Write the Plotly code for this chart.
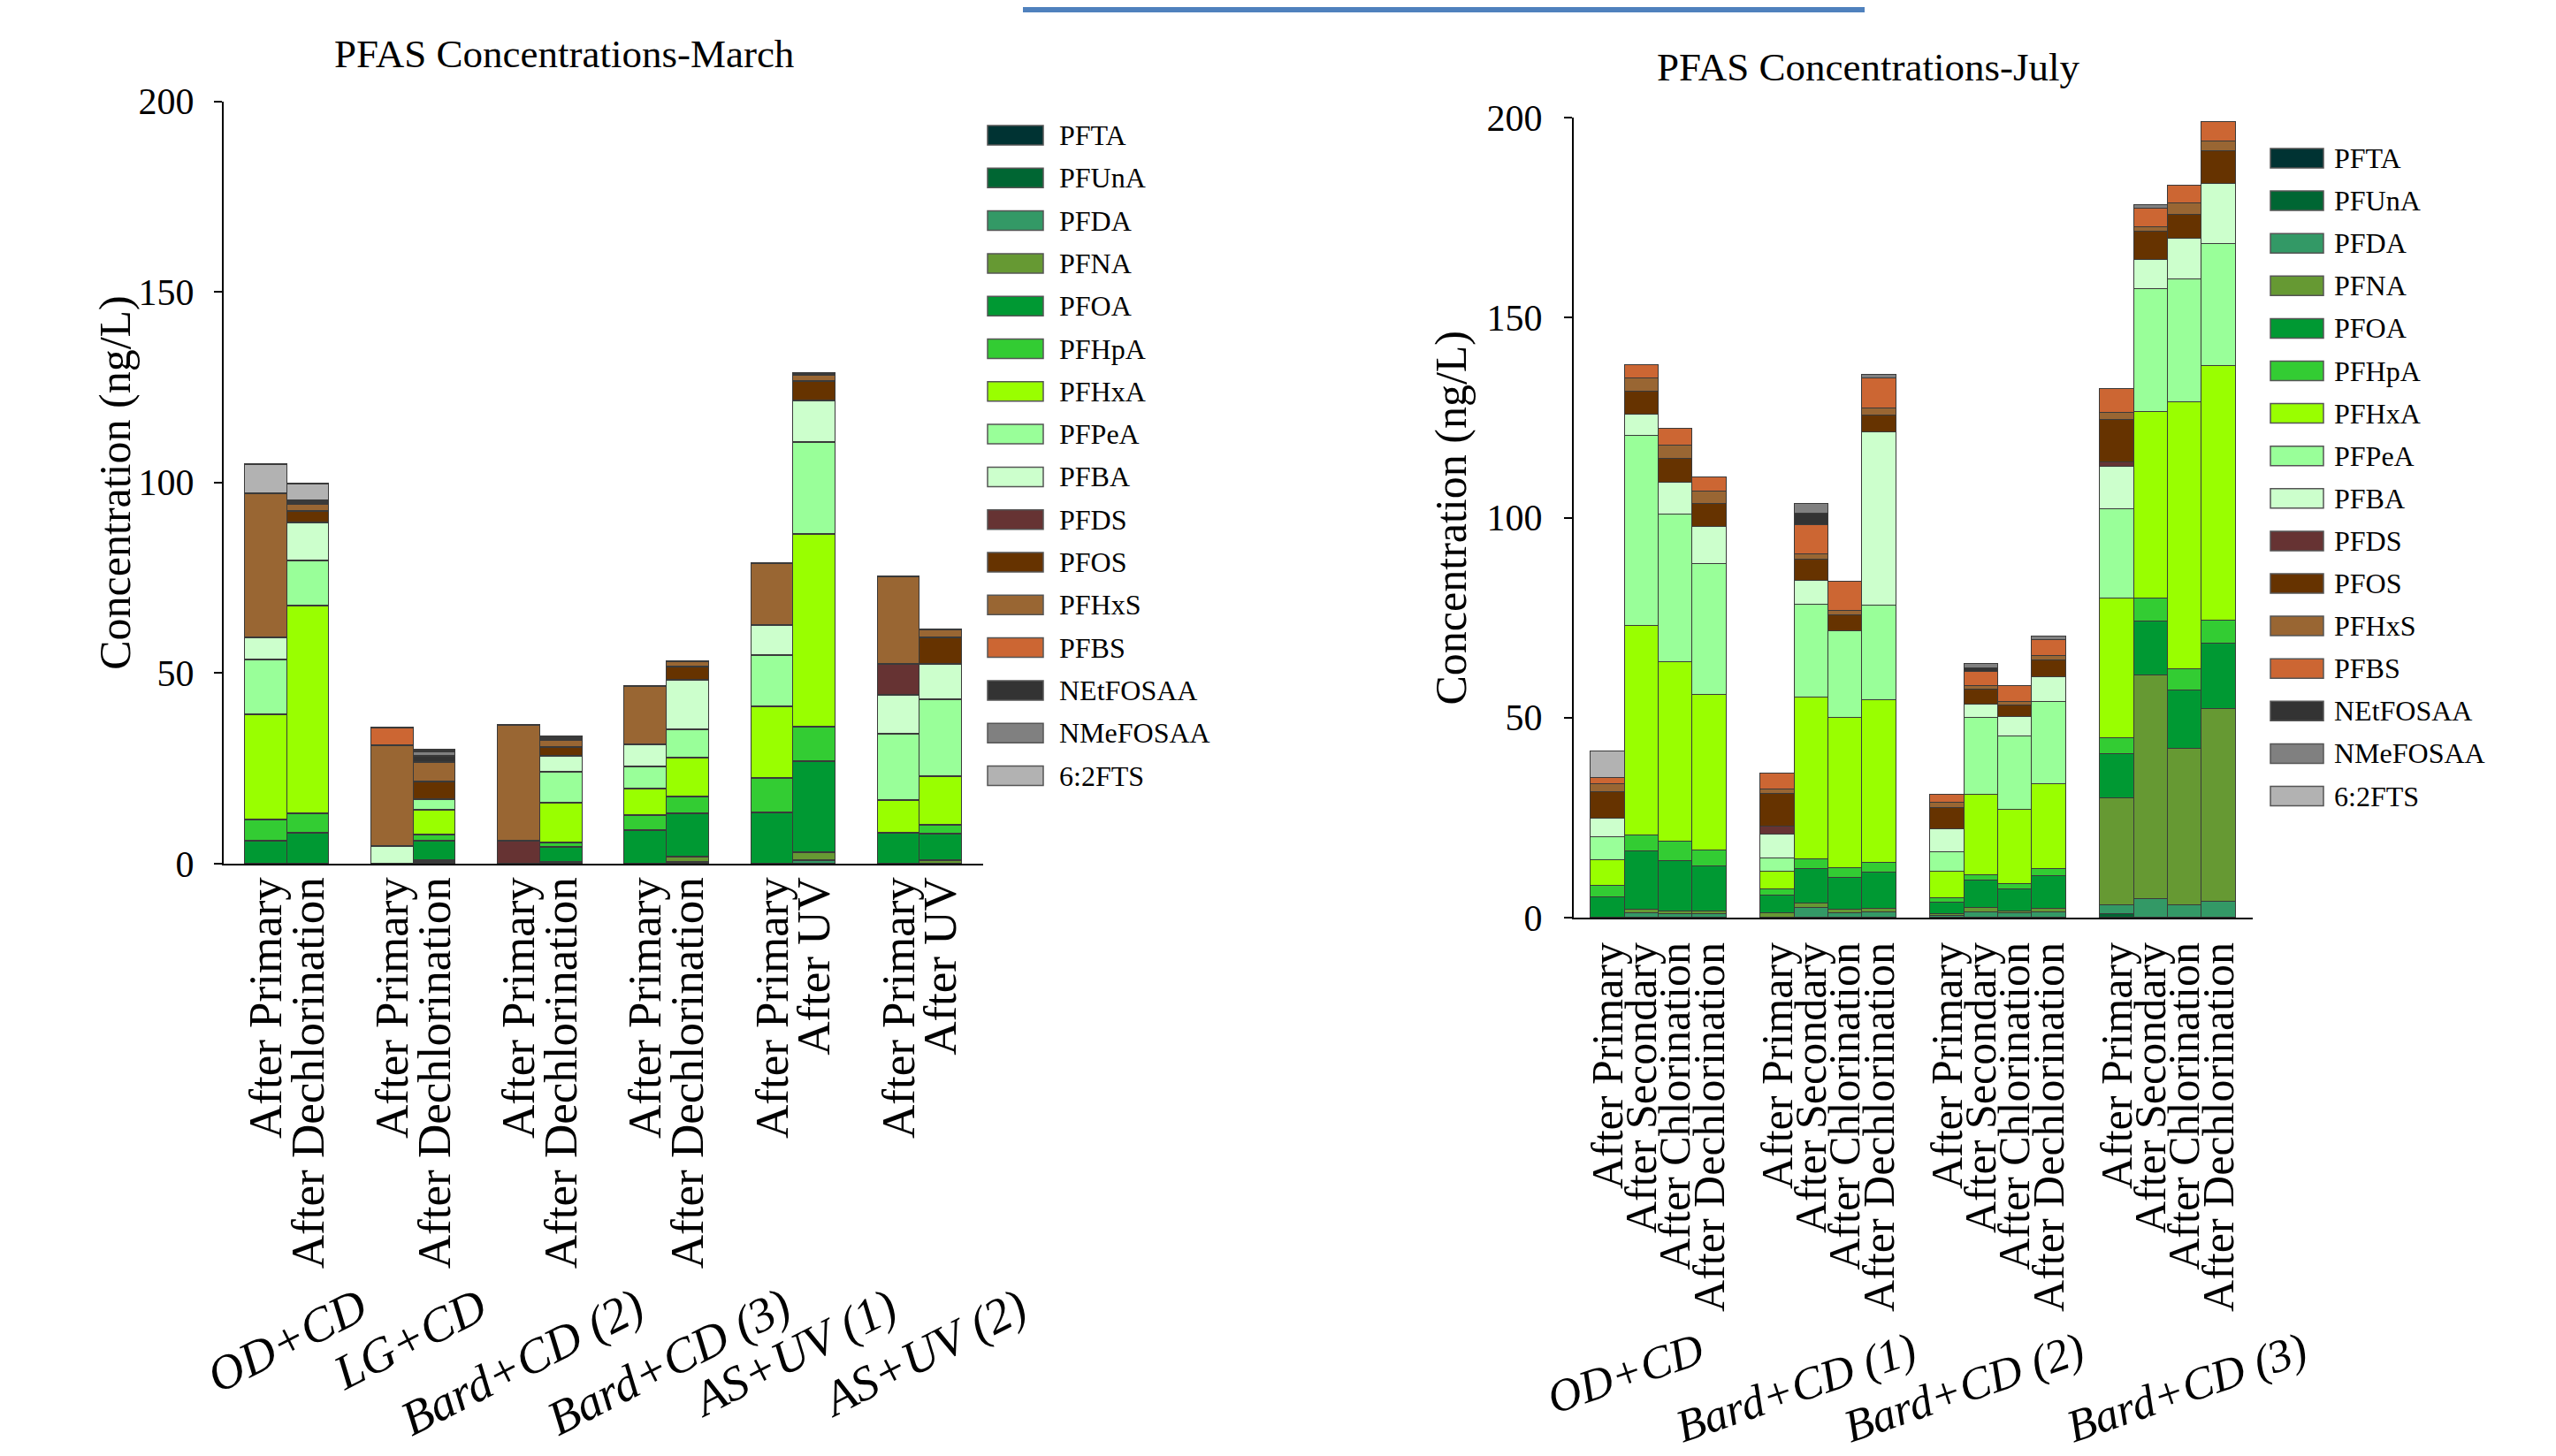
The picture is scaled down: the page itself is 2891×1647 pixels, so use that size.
import plotly.graph_objects as go

W, H = 2891, 1647

compounds = ["PFTA", "PFUnA", "PFDA", "PFNA", "PFOA", "PFHpA", "PFHxA", "PFPeA", "PFBA",
             "PFDS", "PFOS", "PFHxS", "PFBS", "NEtFOSAA", "NMeFOSAA", "6:2FTS"]
colors = ["#003333", "#006633", "#339966", "#669933", "#009933", "#33CC33", "#99FF00", "#99FF99",
          "#CCFFCC", "#663333", "#663300", "#996633", "#CC6633", "#333333", "#808080", "#B2B2B2"]

# ---------------- March ----------------
march_groups = ["OD+CD", "LG+CD", "Bard+CD (2)", "Bard+CD (3)", "AS+UV (1)", "AS+UV (2)"]
march_stages = [["After Primary", "After Dechlorination"]] * 4 + [["After Primary", "After UV"]] * 2

march_PFTA = [0, 0, 0, 0, 0, 0, 0, 0, 0, 0, 0, 0]
march_PFUnA = [0, 0, 0, 0, 0, 0, 0, 0, 0, 0, 0, 0]
march_PFDA = [0, 0, 0, 0.3, 0, 0, 0, 0.4, 0, 0.9, 0, 0]
march_PFNA = [0, 0, 0, 0.5, 0, 0.3, 0, 1.4, 0, 2.1, 0, 0.7]
march_PFOA = [6.0, 8.1, 0, 5.2, 0, 3.9, 8.8, 11.3, 13.4, 23.8, 7.9, 7.0]
march_PFHpA = [5.4, 5.1, 0, 1.6, 0, 1.2, 3.8, 4.5, 8.9, 9.0, 0, 2.5]
march_PFHxA = [27.7, 54.5, 0, 6.5, 0, 10.6, 7.0, 10.2, 18.8, 50.6, 8.6, 12.6]
march_PFPeA = [14.4, 11.8, 0, 2.8, 0, 8.0, 5.7, 7.4, 13.5, 24.2, 17.5, 20.3]
march_PFBA = [5.8, 10.0, 4.6, 0, 0, 4.1, 6.0, 12.9, 7.9, 10.8, 10.2, 9.2]
march_PFDS = [0, 0, 0, 0, 6.0, 0, 0, 0, 0, 0, 8.1, 0]
march_PFOS = [0, 2.9, 0, 4.5, 0, 2.3, 0, 3.6, 0, 5.0, 0, 7.0]
march_PFHxS = [37.7, 1.8, 26.3, 5.2, 30.3, 1.9, 15.2, 1.4, 16.3, 1.8, 22.9, 2.1]
march_PFBS = [0, 0, 4.8, 0, 0, 0, 0, 0, 0, 0, 0, 0]
march_NEtFOSAA = [0, 0.5, 0, 1.6, 0, 0.6, 0, 0, 0, 0.4, 0, 0]
march_NMeFOSAA = [0, 0.4, 0, 1.2, 0, 0.4, 0, 0, 0, 0, 0, 0]
march_62FTS = [7.8, 4.6, 0, 0.4, 0, 0, 0, 0, 0, 0, 0, 0]

# ---------------- July ----------------
july_groups = ["OD+CD", "Bard+CD (1)", "Bard+CD (2)", "Bard+CD (3)"]
july_stages = [["After Primary", "After Secondary", "After Chlorination", "After Dechlorination"]] * 4

july_PFTA = [0, 0, 0, 0, 0, 0, 0, 0, 0, 0, 0, 0, 0, 0, 0, 0]
july_PFUnA = [0, 0, 0, 0, 0, 0, 0, 0, 0, 0, 0, 0, 0.9, 0, 0, 0]
july_PFDA = [0, 1.2, 0.9, 0.9, 0, 2.4, 1.2, 1.3, 0.4, 1.3, 1.0, 1.35, 2.1, 4.7, 3.2, 3.9]
july_PFNA = [0, 0.9, 0.7, 0.6, 1.0, 1.1, 0.7, 1.0, 0.5, 1.1, 0.6, 0.95, 26.8, 55.8, 39.0, 48.2]
july_PFOA = [5.0, 14.4, 12.5, 11.3, 4.5, 8.7, 8.1, 8.9, 2.8, 6.9, 5.5, 8.1, 11.1, 13.5, 14.5, 16.5]
july_PFHpA = [2.9, 4.1, 4.8, 4.1, 1.6, 2.4, 2.4, 2.6, 1.1, 1.4, 1.3, 1.8, 4.0, 5.7, 5.4, 5.7]
july_PFHxA = [6.5, 52.3, 45.0, 38.7, 4.3, 40.4, 37.5, 40.6, 6.7, 20.0, 18.6, 21.2, 34.9, 46.7, 66.7, 63.7]
july_PFPeA = [5.7, 47.6, 36.8, 32.9, 3.5, 23.3, 21.7, 23.6, 4.8, 19.3, 18.2, 20.6, 22.2, 30.8, 30.7, 30.5]
july_PFBA = [4.7, 5.2, 8.1, 9.2, 5.9, 6.0, 0, 43.4, 5.8, 3.2, 4.9, 6.2, 10.6, 7.2, 10.3, 14.9]
july_PFDS = [0, 0, 0, 0, 1.9, 0, 0, 0, 0, 0, 0, 0, 1.3, 0, 0, 0]
july_PFOS = [6.6, 5.7, 6.0, 5.8, 8.2, 5.3, 3.9, 4.1, 5.4, 3.8, 3.0, 4.1, 10.5, 7.0, 6.0, 8.1]
july_PFHxS = [1.9, 3.5, 3.2, 3.0, 1.2, 1.2, 1.1, 1.7, 1.2, 1.0, 0.8, 1.2, 1.7, 1.1, 2.7, 2.5]
july_PFBS = [1.7, 3.2, 4.3, 3.6, 4.0, 7.4, 7.4, 7.7, 2.0, 3.4, 4.1, 3.8, 6.1, 4.8, 4.4, 4.9]
july_NEtFOSAA = [0, 0, 0, 0, 0, 2.9, 0, 0, 0, 1.0, 0, 0, 0, 0, 0, 0]
july_NMeFOSAA = [0, 0, 0, 0, 0, 2.4, 0, 0.8, 0, 1.1, 0, 0.9, 0, 0.9, 0, 0]
july_62FTS = [6.6, 0, 0, 0, 0, 0, 0, 0, 0, 0, 0, 0, 0, 0, 0, 0]

march_values = [march_PFTA, march_PFUnA, march_PFDA, march_PFNA, march_PFOA, march_PFHpA,
                march_PFHxA, march_PFPeA, march_PFBA, march_PFDS, march_PFOS, march_PFHxS,
                march_PFBS, march_NEtFOSAA, march_NMeFOSAA, march_62FTS]
july_values = [july_PFTA, july_PFUnA, july_PFDA, july_PFNA, july_PFOA, july_PFHpA,
               july_PFHxA, july_PFPeA, july_PFBA, july_PFDS, july_PFOS, july_PFHxS,
               july_PFBS, july_NEtFOSAA, july_NMeFOSAA, july_62FTS]

# ---------------- layout helpers (pixels -> paper) ----------------
OFF = 8  # page body margin offset

def px(x):
    return (x - OFF) / W

def py(y):
    return 1 - (y - OFF) / H

FONT = "Liberation Serif, Times New Roman, serif"
OUTLINE = dict(color="#3a3a3a", width=1.5)

m_per = 3
j_per = 5
march_x, march_ticktext = [], []
for g, stages in enumerate(march_stages):
    for j, s in enumerate(stages):
        march_x.append(g * m_per + j)
        march_ticktext.append(s)
july_x, july_ticktext = [], []
for g, stages in enumerate(july_stages):
    for j, s in enumerate(stages):
        july_x.append(g * j_per + j)
        july_ticktext.append(s)

fig = go.Figure()

def nz(v):
    return [val if val else None for val in v]

for name, col, mv, jv in zip(compounds, colors, march_values, july_values):
    fig.add_trace(go.Bar(x=march_x, y=nz(mv), name=name, width=1,
                         marker=dict(color=col, line=OUTLINE),
                         xaxis="x", yaxis="y", showlegend=False))
    fig.add_trace(go.Bar(x=july_x, y=nz(jv), name=name, width=1,
                         marker=dict(color=col, line=OUTLINE),
                         xaxis="x2", yaxis="y2", showlegend=False))

L_X0, L_X1, L_Y200, L_Y0 = 253, 1112, 114.5, 977
R_X0, R_X1, R_Y200, R_Y0 = 1780, 2548, 133, 1038

def yaxis_style(y200, y0, standoff):
    return dict(domain=[py(y0), py(y200)], range=[0, 200], tickvals=[0, 50, 100, 150, 200],
                ticks="outside", ticklen=9, tickwidth=2, tickcolor="black", automargin=False,
                showline=True, linecolor="black", linewidth=2, showgrid=False, zeroline=False,
                tickfont=dict(family=FONT, size=42, color="black"), ticklabelstandoff=standoff)

def xaxis_style(x0, x1, rng, tv, tt, standoff, anchor, fsize):
    return dict(domain=[px(x0), px(x1)], range=rng, tickvals=tv, ticktext=tt, tickangle=-90,
                ticks="", showline=True, linecolor="black", linewidth=2, showgrid=False,
                zeroline=False, anchor=anchor, automargin=False,
                tickfont=dict(family=FONT, size=fsize, color="black"), ticklabelstandoff=standoff)

n_m = len(march_stages)
n_j = len(july_stages)
fig.update_layout(
    width=W, height=H, autosize=False,
    margin=dict(l=0, r=0, t=0, b=0, pad=0),
    paper_bgcolor="white", plot_bgcolor="white",
    barmode="stack", bargap=0,
    font=dict(family=FONT, color="black"),
    xaxis=xaxis_style(L_X0, L_X1, [-1, n_m * m_per - 1], march_x, march_ticktext, -8, "y", 53),
    yaxis=yaxis_style(L_Y200, L_Y0, 14) | dict(anchor="x"),
    xaxis2=xaxis_style(R_X0, R_X1, [-1, n_j * j_per - 1], july_x, july_ticktext, 6, "y2", 50),
    yaxis2=yaxis_style(R_Y200, R_Y0, 16) | dict(anchor="x2"),
)

ann = []
shapes = []

ann.append(dict(text="PFAS Concentrations-March", x=px(638), y=py(61), xref="paper", yref="paper",
                xanchor="center", yanchor="middle", showarrow=False,
                font=dict(family=FONT, size=45, color="black")))
ann.append(dict(text="PFAS Concentrations-July", x=px(2113), y=py(76), xref="paper", yref="paper",
                xanchor="center", yanchor="middle", showarrow=False,
                font=dict(family=FONT, size=45, color="black")))
ann.append(dict(text="Concentration (ng/L)", x=px(130), y=py((L_Y0 + L_Y200) / 2), xref="paper",
                yref="paper", textangle=-90, xanchor="center", yanchor="middle", showarrow=False,
                font=dict(family=FONT, size=50, color="black")))
ann.append(dict(text="Concentration (ng/L)", x=px(1640), y=py((R_Y0 + R_Y200) / 2), xref="paper",
                yref="paper", textangle=-90, xanchor="center", yanchor="middle", showarrow=False,
                font=dict(family=FONT, size=50, color="black")))

march_shift = [0, -4, -20, 2, 0, 4]
for g, name in enumerate(march_groups):
    ann.append(dict(text=name, x=g * m_per + 0.5, xref="x", y=py(1443), yref="paper",
                    xanchor="center", yanchor="top", textangle=-27, showarrow=False,
                    xshift=march_shift[g],
                    font=dict(family=FONT, size=55, color="black", style="italic")))
july_shift = [-38, -37, -39, 21]
for g, name in enumerate(july_groups):
    ann.append(dict(text=name, x=g * j_per + 1.5, xref="x2", y=py(1494), yref="paper",
                    xanchor="center", yanchor="top", textangle=-19, showarrow=False,
                    xshift=july_shift[g],
                    font=dict(family=FONT, size=52, color="black", style="italic")))

def add_legend(x_box0, x_box1, x_text, y_first, step):
    for i, (name, col) in enumerate(zip(compounds, colors)):
        yc = y_first + i * step
        shapes.append(dict(type="rect", xref="paper", yref="paper",
                           x0=px(x_box0), x1=px(x_box1), y0=py(yc + 11), y1=py(yc - 11),
                           fillcolor=col, line=dict(color="#555555", width=1.5)))
        ann.append(dict(text=name, x=px(x_text), y=py(yc), xref="paper", yref="paper",
                        xanchor="left", yanchor="middle", showarrow=False,
                        font=dict(family=FONT, size=32, color="black")))

add_legend(1117, 1180, 1196, 153, 48.3)
add_legend(2568, 2628, 2638, 179, 48.1)

# blue frame partly visible at the top
bx0, bx1, by = px(1160), px(2106), py(11)
shapes.append(dict(type="path", xref="paper", yref="paper",
                   path=f"M {bx0},{py(0)} L {bx0},{by} L {bx1},{by} L {bx1},{py(0)}",
                   line=dict(color="#4F81BD", width=6)))

fig.update_layout(annotations=ann, shapes=shapes)
fig.write_html("out.html")
